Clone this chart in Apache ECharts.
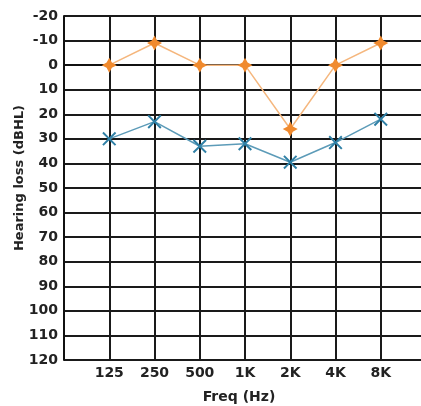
<!DOCTYPE html>
<html><head><meta charset="utf-8">
<script src="https://cdn.jsdelivr.net/npm/echarts@6/dist/echarts.min.js"></script>
<style>html,body{margin:0;padding:0;background:#fff}#c{width:421px;height:406px}</style>
</head><body><div id="c"></div>
<script>
var freqLabels = ['125','250','500','1K','2K','4K','8K'];
var yTicks = [-20,-10,0,10,20,30,40,50,60,70,80,90,100,110,120];
var rightEar = [0,-9,0,0,26,0,-9];
var leftEar = [30,23,33,32,39.5,31.5,22];

function toPoints(arr){ return arr.map(function(v,i){ return [i+1, v]; }); }

var chart = echarts.init(document.getElementById('c'), null, {renderer:'canvas'});
var font = 'DejaVu Sans';
chart.setOption({
  animation:false,
  backgroundColor:'#fff',
  grid:{left:64, top:16, width:362, bottom:46, containLabel:false, outerBoundsMode:'none'},
  xAxis:{
    type:'value', min:0, max:8, interval:1,
    axisLine:{show:true, lineStyle:{color:'#111', width:2}},
    axisTick:{show:true, length:4, lineStyle:{color:'#111', width:1.5}},
    axisLabel:{margin:6, color:'#222', fontFamily:font, fontWeight:'bold', fontSize:14,
      formatter:function(v){ return (v>=1 && v<=7) ? freqLabels[v-1] : ''; }},
    splitLine:{show:true, lineStyle:{color:'#1a1a1a', width:2}}
  },
  yAxis:{
    type:'value', inverse:true, min:yTicks[0], max:yTicks[yTicks.length-1], interval:10,
    axisLine:{show:true, lineStyle:{color:'#111', width:2}},
    axisTick:{show:false},
    axisLabel:{margin:6, color:'#222', fontFamily:font, fontWeight:'bold', fontSize:14},
    splitLine:{show:true, lineStyle:{color:'#1a1a1a', width:2.2}}
  },
  graphic:[
    {type:'text', x:239, y:397, style:{text:'Freq (Hz)', fill:'#222', font:'bold 14px "DejaVu Sans"', align:'center', verticalAlign:'middle'}},
    {type:'text', x:20, y:178, rotation:Math.PI/2, style:{text:'Hearing loss (dBHL)', fill:'#222', font:'bold 13px "DejaVu Sans"', align:'center', verticalAlign:'middle'}}
  ],
  series:[
    {type:'line', data:toPoints(rightEar),
     symbol:'path://M0,-10 L3.5,-3.5 L10,0 L3.5,3.5 L0,10 L-3.5,3.5 L-10,0 L-3.5,-3.5 Z', symbolSize:15,
     lineStyle:{color:'#f5b77e', width:1.5},
     itemStyle:{color:'#f08a2e'}, z:5},
    {type:'line', data:toPoints(leftEar),
     symbol:'path://M-10,-8 L-8,-10 L0,-2 L8,-10 L10,-8 L2,0 L10,8 L8,10 L0,2 L-8,10 L-10,8 L-2,0 Z', symbolSize:14,
     lineStyle:{color:'#5c9bb8', width:1.5},
     itemStyle:{color:'#2f80a6'}, z:5}
  ]
});
</script></body></html>
